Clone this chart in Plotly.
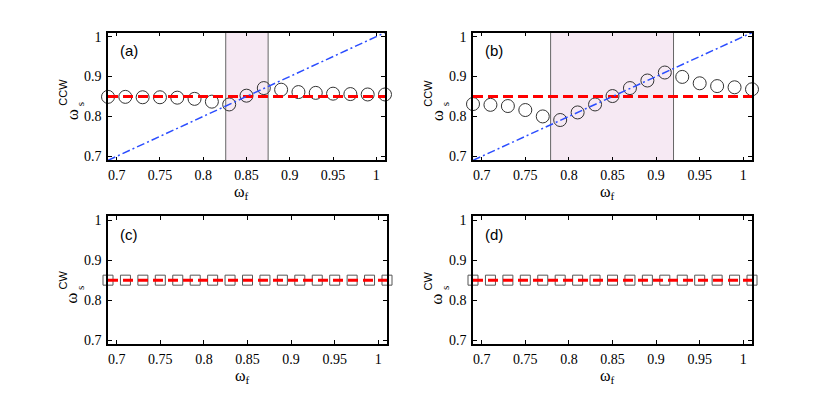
import plotly.graph_objects as go

# ---- data ----
omega_f = [0.69, 0.71, 0.73, 0.75, 0.77, 0.79, 0.81, 0.83, 0.85, 0.87,
           0.89, 0.91, 0.93, 0.95, 0.97, 0.99, 1.01]
ccw_a = [0.849, 0.849, 0.848, 0.848, 0.847, 0.844, 0.837, 0.830, 0.852, 0.871,
         0.867, 0.861, 0.859, 0.857, 0.856, 0.855, 0.855]
ccw_b = [0.831, 0.829, 0.826, 0.816, 0.800, 0.791, 0.810, 0.830, 0.851, 0.871,
         0.890, 0.910, 0.899, 0.883, 0.876, 0.873, 0.868]
cw_c = [0.85] * 17
cw_d = [0.85] * 17
omega_s0 = 0.85
band_a = [0.826, 0.875]
band_b = [0.779, 0.920]
diag = [0.69, 1.01]
x_ticks = [0.7, 0.75, 0.8, 0.85, 0.9, 0.95, 1.0]
x_ticklabels = ["0.7", "0.75", "0.8", "0.85", "0.9", "0.95", "1"]
y_ticks = [0.7, 0.8, 0.9, 1.0]
y_ticklabels = ["0.7", "0.8", "0.9", "1"]
panel_labels = ["(a)", "(b)", "(c)", "(d)"]
y_supers = ["CCW", "CCW", "CW", "CW"]

W, H = 830, 397
OFF = 8  # page body margin


def px(xp):
    return (xp - OFF) / W


def py(yp):
    return 1 - (yp - OFF) / H


# panel boxes in page pixels (left, right, top, bottom)
boxes = [(108, 385, 30, 160), (473, 752, 30, 160), (108, 387, 217, 347), (473, 752, 217, 347)]

fig = go.Figure()

panels = [
    dict(data=ccw_a, band=band_a, diag=True, sym="circle"),
    dict(data=ccw_b, band=band_b, diag=True, sym="circle"),
    dict(data=cw_c, band=None, diag=False, sym="square"),
    dict(data=cw_d, band=None, diag=False, sym="square"),
]

tickfont = dict(family="Liberation Serif", size=14, color="black")
serif = "Liberation Serif"
shapes = []
annotations = []
for i, p in enumerate(panels):
    n = "" if i == 0 else str(i + 1)
    xa, ya = "x" + n, "y" + n
    L, R, T, B = boxes[i]
    if p["band"] is not None:
        shapes.append(dict(type="rect", xref=xa, yref=ya + " domain", x0=p["band"][0], x1=p["band"][1],
                           y0=0, y1=1, fillcolor="#f6e9f3", line=dict(width=0), layer="below"))
        for xv in p["band"]:
            shapes.append(dict(type="line", xref=xa, yref=ya + " domain", x0=xv, x1=xv, y0=0, y1=1,
                               line=dict(color="#666666", width=1), layer="below"))
    if p["sym"] == "circle":
        mk = dict(symbol="circle-open", size=13, color="#333333", line=dict(width=1, color="#333333"))
    else:
        mk = dict(symbol="square-open", size=10, color="#555555", line=dict(width=1, color="#555555"))
    fig.add_trace(go.Scatter(x=omega_f, y=p["data"], mode="markers", marker=mk,
                             xaxis=xa, yaxis=ya, showlegend=False, cliponaxis=False))
    fig.add_trace(go.Scatter(x=diag, y=[omega_s0, omega_s0], mode="lines",
                             line=dict(color="#ff0000", width=3, dash="10px,5px"),
                             xaxis=xa, yaxis=ya, showlegend=False))
    if p["diag"]:
        fig.add_trace(go.Scatter(x=diag, y=diag, mode="lines",
                                 line=dict(color="#2b4dff", width=1.5, dash="8px,3px,2px,3px"),
                                 xaxis=xa, yaxis=ya, showlegend=False))
    axcommon = dict(showline=True, linecolor="black", linewidth=1.5, mirror="ticks",
                    ticks="inside", ticklen=4, tickcolor="black", tickwidth=1, showgrid=False,
                    zeroline=False, tickfont=tickfont, range=[0.69, 1.01])
    fig.layout["xaxis" + n] = dict(axcommon, domain=[px(L), px(R)], anchor=ya,
                                   tickvals=x_ticks, ticktext=x_ticklabels, ticklabelstandoff=1)
    fig.layout["yaxis" + n] = dict(axcommon, domain=[py(B), py(T)], anchor=xa,
                                   tickvals=y_ticks, ticktext=y_ticklabels, ticklabelstandoff=2)
    # panel label
    annotations.append(dict(text=panel_labels[i], xref="paper", yref="paper",
                            x=px(L + 10), y=py(T + 8), xanchor="left", yanchor="top", showarrow=False,
                            font=dict(family="Liberation Sans", size=15, color="black")))
    # x-axis title omega_f
    cx = (L + R) / 2 - 5
    annotations.append(dict(text="ω<sub>f</sub>", xref="paper", yref="paper", x=px(cx), y=py(B + 22),
                            xanchor="center", yanchor="top", showarrow=False, borderpad=0,
                            font=dict(family=serif, size=16, color="black")))
    # y-axis title omega_s^CCW (stacked sub/sup), rotated
    cy = (T + B) / 2
    annotations.append(dict(text="ω", xref="paper", yref="paper", x=px(L - 36), y=py(cy + 19),
                            xanchor="center", yanchor="middle", showarrow=False, textangle=-90,
                            font=dict(family=serif, size=17, color="black")))
    annotations.append(dict(text="s", xref="paper", yref="paper", x=px(L - 28), y=py(cy + 8),
                            xanchor="center", yanchor="middle", showarrow=False, textangle=-90,
                            font=dict(family=serif, size=11, color="black")))
    annotations.append(dict(text=y_supers[i], xref="paper", yref="paper", x=px(L - 45), y=py(cy + 12),
                            xanchor="center", yanchor="bottom", showarrow=False, textangle=-90,
                            font=dict(family="Liberation Sans", size=11, color="black")))

fig.update_layout(width=W, height=H, margin=dict(l=0, r=0, t=0, b=0),
                  paper_bgcolor="white", plot_bgcolor="white",
                  shapes=shapes, annotations=annotations)
fig.write_html("out.html")
